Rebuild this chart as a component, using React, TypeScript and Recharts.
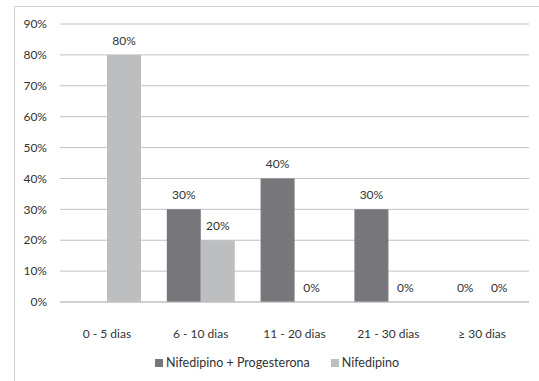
import React from 'react';
import { BarChart, Bar, XAxis, YAxis, CartesianGrid, LabelList } from 'recharts';

const categories = ['0 - 5 dias', '6 - 10 dias', '11 - 20 dias', '21 - 30 dias', '≥ 30 dias'];
const nifProg: (number | null)[] = [null, 30, 40, 30, 0];
const nif: (number | null)[] = [80, 20, 0, 0, 0];
const yTicks = [0, 10, 20, 30, 40, 50, 60, 70, 80, 90];
const seriesNames = ['Nifedipino + Progesterona', 'Nifedipino'];

const data = categories.map((c, i) => ({ name: c, a: nifProg[i], b: nif[i] }));

const FONT = 'Lato, "Open Sans", sans-serif';
const TEXT = '#333333';
const DARK = '#77777b';
const LIGHT = '#bdbec0';
const GRID = '#c0c0c0';

const fmt = (v: any) => (v === null || v === undefined ? '' : `${v}%`);

const LegendBox = () => (
  <div style={{ position: 'absolute', left: 155, top: 355, display: 'flex', alignItems: 'center', fontFamily: FONT, fontSize: 12.5, lineHeight: '16px', color: TEXT, whiteSpace: 'nowrap' }}>
    <span style={{ display: 'inline-block', width: 8, height: 8, background: DARK, marginRight: 3 }} />
    <span style={{ marginRight: 21 }}>{seriesNames[0]}</span>
    <span style={{ display: 'inline-block', width: 8, height: 8, background: LIGHT, marginRight: 3 }} />
    <span>{seriesNames[1]}</span>
  </div>
);

export default function App() {
  return (
    <div style={{ position: 'absolute', left: 0, top: 0, width: 539, height: 381, overflow: 'hidden', background: '#fff' }}>
      <div style={{ position: 'absolute', left: 14, top: 6, width: 600, height: 500, border: '1px solid #d0d0d0' }} />
      <div style={{ position: 'absolute', left: 0, top: 0 }}>
        <BarChart width={539} height={381} data={data} margin={{ top: 24, right: 10, bottom: 49, left: 0 }} barGap={0} barCategoryGap={13}>
          <CartesianGrid horizontal vertical={false} stroke={GRID} />
          <XAxis dataKey="name" height={30} axisLine={{ stroke: GRID }} tickLine={false} tickSize={0} tickMargin={27}
            tick={{ fill: TEXT, fontSize: 12, fontFamily: FONT }} interval={0} />
          <YAxis width={60} domain={[0, 90]} ticks={yTicks} tickFormatter={(v) => `${v}%`} axisLine={false} tickLine={false}
            tickSize={0} tickMargin={13} tick={{ fill: TEXT, fontSize: 12, fontFamily: FONT }} />
          <Bar dataKey="a" name={seriesNames[0]} fill={DARK} isAnimationActive={false} minPointSize={0.01}>
            <LabelList dataKey="a" position="top" offset={10} formatter={fmt} style={{ fill: TEXT, fontSize: 12, fontFamily: FONT }} />
          </Bar>
          <Bar dataKey="b" name={seriesNames[1]} fill={LIGHT} isAnimationActive={false} minPointSize={0.01}>
            <LabelList dataKey="b" position="top" offset={10} formatter={fmt} style={{ fill: TEXT, fontSize: 12, fontFamily: FONT }} />
          </Bar>
        </BarChart>
      </div>
      <LegendBox />
    </div>
  );
}
